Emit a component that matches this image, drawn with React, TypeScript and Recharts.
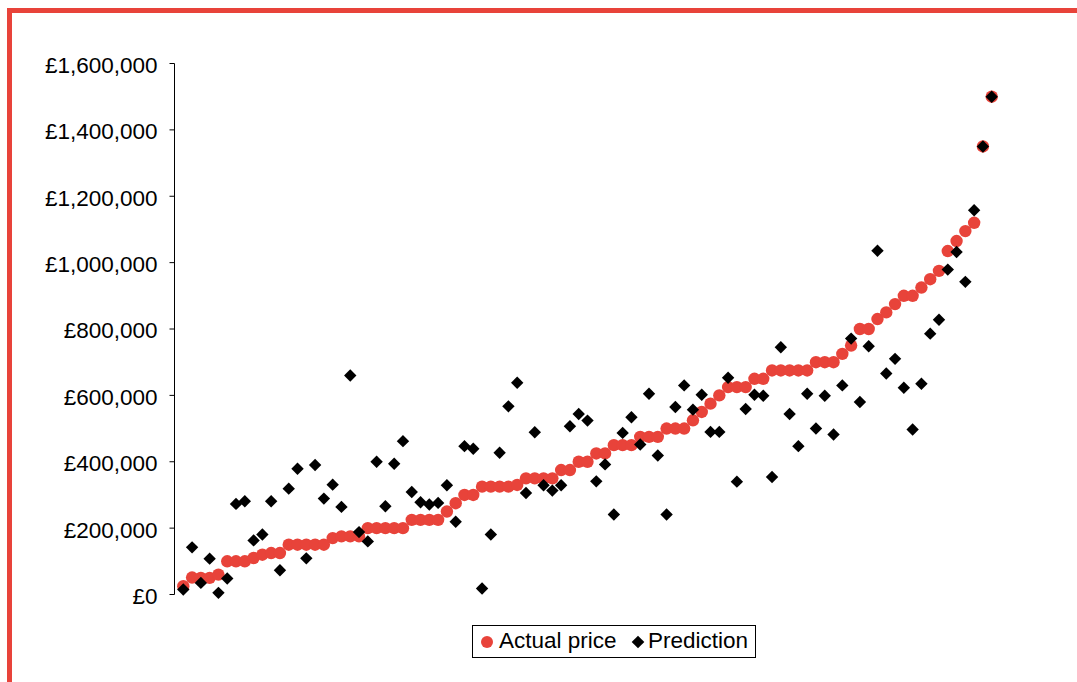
import { ScatterChart, Scatter, XAxis, YAxis } from "recharts";

// house sale index, in order of actual price
const actualPrice = [
  25000, 51000, 50000, 50000, 60000, 100000, 100000, 100000, 110000, 120000,
  125000, 125000, 150000, 150000, 150000, 150000, 150000, 170000, 175000, 175000,
  175000, 200000, 200000, 200000, 200000, 200000, 225000, 225000, 225000, 225000,
  250000, 275000, 300000, 300000, 325000, 325000, 325000, 325000, 330000, 350000,
  350000, 350000, 350000, 375000, 375000, 400000, 400000, 425000, 425000, 450000,
  450000, 450000, 475000, 475000, 475000, 500000, 500000, 500000, 525000, 550000,
  575000, 600000, 625000, 625000, 625000, 650000, 650000, 675000, 675000, 675000,
  675000, 675000, 700000, 700000, 700000, 725000, 750000, 800000, 800000, 830000,
  850000, 875000, 900000, 900000, 925000, 950000, 975000, 1035000, 1065000, 1095000,
  1120000, 1350000, 1500000,
];

const prediction = [
  15000, 142000, 35000, 108000, 5000, 48000, 273000, 281000, 163000, 181000,
  281000, 73000, 319000, 379000, 109000, 390000, 289000, 331000, 264000, 660000,
  188000, 160000, 400000, 266000, 394000, 462000, 309000, 278000, 271000, 276000,
  329000, 219000, 447000, 439000, 18000, 181000, 427000, 567000, 638000, 306000,
  489000, 329000, 313000, 329000, 507000, 544000, 524000, 341000, 392000, 241000,
  487000, 534000, 452000, 605000, 419000, 241000, 565000, 630000, 557000, 602000,
  490000, 490000, 653000, 340000, 559000, 602000, 599000, 354000, 745000, 544000,
  447000, 605000, 500000, 599000, 482000, 630000, 771000, 580000, 748000, 1036000,
  666000, 710000, 623000, 497000, 635000, 786000, 828000, 979000, 1032000, 942000,
  1158000, 1350000, 1500000,
];

const yTicks = [0, 200000, 400000, 600000, 800000, 1000000, 1200000, 1400000, 1600000];

const RED = "#E8433A";
const FONT = "'Liberation Sans', Arial, sans-serif";

const actualRows = actualPrice.map((v, i) => ({ x: i + 1, y: v }));
const predRows = prediction.map((v, i) => ({ x: i + 1, y: v }));

const fmt = (v: number) => "£" + v.toLocaleString("en-GB");

const Dot = (p: any) => <circle cx={p.cx} cy={p.cy} r={6.2} fill={RED} />;

const Diamond = (p: any) => {
  const r = 6.2;
  return (
    <polygon
      points={`${p.cx},${p.cy - r} ${p.cx + r},${p.cy} ${p.cx},${p.cy + r} ${p.cx - r},${p.cy}`}
      fill="#000"
    />
  );
};

export default function App() {
  return (
    <div
      style={{
        position: "absolute",
        left: 0,
        top: 0,
        width: 1077,
        height: 682,
        background: "#fff",
        overflow: "hidden",
        fontFamily: FONT,
      }}
    >
      {/* red frame, only top and left edges show */}
      <div
        style={{
          position: "absolute",
          left: 7,
          top: 8,
          width: 1200,
          height: 800,
          borderTop: `5px solid ${RED}`,
          borderLeft: `5px solid ${RED}`,
        }}
      />
      <div style={{ position: "absolute", left: 0, top: 0 }}>
        <ScatterChart
          width={1077}
          height={682}
          margin={{ top: 63.5, right: 76.5, bottom: 87.5, left: 0 }}
        >
          <XAxis type="number" dataKey="x" domain={[0, 94]} hide />
          <YAxis
            type="number"
            dataKey="y"
            domain={[0, 1600000]}
            ticks={yTicks}
            width={174.5}
            tickSize={5}
            tickMargin={12}
            axisLine={{ stroke: "#000" }}
            tickLine={{ stroke: "#000" }}
            tick={{ fill: "#000", fontSize: 22.5, fontFamily: FONT, dy: 1.5 }}
            tickFormatter={fmt}
          />
          <Scatter
            name="Actual price"
            data={actualRows}
            shape={Dot}
            isAnimationActive={false}
          />
          <Scatter
            name="Prediction"
            data={predRows}
            shape={Diamond}
            isAnimationActive={false}
          />
        </ScatterChart>
      </div>
      {/* legend */}
      <div
        style={{
          position: "absolute",
          left: 472,
          top: 625,
          width: 284,
          height: 33,
          boxSizing: "border-box",
          border: "1.3px solid #000",
          background: "#fff",
          fontSize: 22.5,
          color: "#000",
        }}
      >
        <svg
          width={14}
          height={14}
          style={{ position: "absolute", left: 7, top: 9 }}
        >
          <circle cx={7} cy={7} r={6} fill={RED} />
        </svg>
        <span style={{ position: "absolute", left: 26, top: 2, lineHeight: "26px" }}>
          Actual price
        </span>
        <svg
          width={14}
          height={14}
          style={{ position: "absolute", left: 158, top: 9 }}
        >
          <polygon points="7,0.7 13.3,7 7,13.3 0.7,7" fill="#000" />
        </svg>
        <span style={{ position: "absolute", left: 175, top: 2, lineHeight: "26px" }}>
          Prediction
        </span>
      </div>
    </div>
  );
}
